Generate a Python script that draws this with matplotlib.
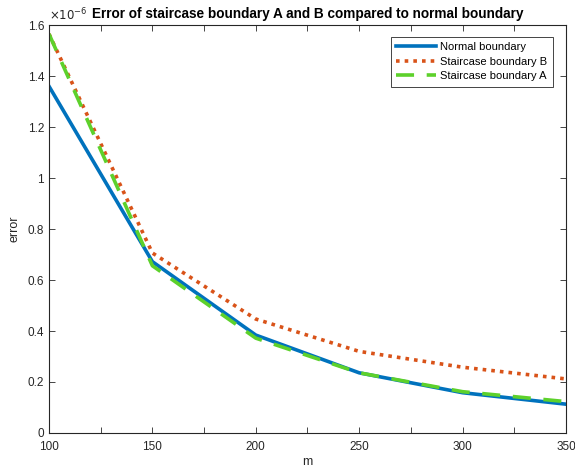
import matplotlib
matplotlib.use("Agg")
import matplotlib.pyplot as plt
from matplotlib.ticker import MultipleLocator, FuncFormatter

plt.rcParams['font.family'] = ['Liberation Sans', 'DejaVu Sans']

m = [100, 150, 200, 250, 300, 350]
normal = [1.36e-6, 0.672e-6, 0.384e-6, 0.236e-6, 0.158e-6, 0.113e-6]
stair_b = [1.565e-6, 0.706e-6, 0.447e-6, 0.32e-6, 0.258e-6, 0.212e-6]
stair_a = [1.565e-6, 0.656e-6, 0.372e-6, 0.236e-6, 0.162e-6, 0.123e-6]

fig = plt.figure(figsize=(5.75, 4.73), dpi=100)
ax = fig.add_axes([0.0852, 0.0846, 0.8991, 0.8624])

ax.plot(m, normal, color='#0072BD', lw=2.6, label='Normal boundary')
ax.plot(m, stair_b, color='#D95319', lw=2.6, linestyle=(0, (1, 1.4)), label='Staircase boundary B')
ax.plot(m, stair_a, color='#5DD12B', lw=2.6, linestyle=(0, (5, 3.5)), label='Staircase boundary A')

ax.set_xlim(100, 350)
ax.set_ylim(0, 1.6e-6)
ax.xaxis.set_major_locator(MultipleLocator(50))
ax.xaxis.set_minor_locator(MultipleLocator(25))
ax.yaxis.set_major_locator(MultipleLocator(0.2e-6))
ax.yaxis.set_major_formatter(FuncFormatter(lambda v, p: '%g' % round(v * 1e6, 6)))

axcol = '#262626'
for s in ax.spines.values():
    s.set_color(axcol)
    s.set_linewidth(0.8)
ax.tick_params(which='both', direction='in', top=True, right=True, colors=axcol,
               labelsize=8.5, length=4, width=0.6)
ax.tick_params(axis='x', pad=6)
ax.text(0.0, 1.005, r'$\times10^{-6}$', transform=ax.transAxes, fontsize=8.5,
        color=axcol, ha='left', va='bottom')

ax.set_xlabel('m', fontsize=9, color=axcol, labelpad=2)
ax.set_ylabel('error', fontsize=9, color=axcol, labelpad=5)
ax.set_title('Error of staircase boundary A and B compared to normal boundary',
             fontsize=9.8, fontweight='bold', color='black', pad=5)

leg = ax.legend(loc='upper right', fontsize=8, fancybox=False, framealpha=1,
                edgecolor=axcol, handlelength=3.6, borderpad=0.5, labelspacing=0.4,
                handletextpad=0.35, bbox_to_anchor=(0.985, 0.985))
leg.get_frame().set_linewidth(0.6)

fig.savefig('out.png', dpi=100)
